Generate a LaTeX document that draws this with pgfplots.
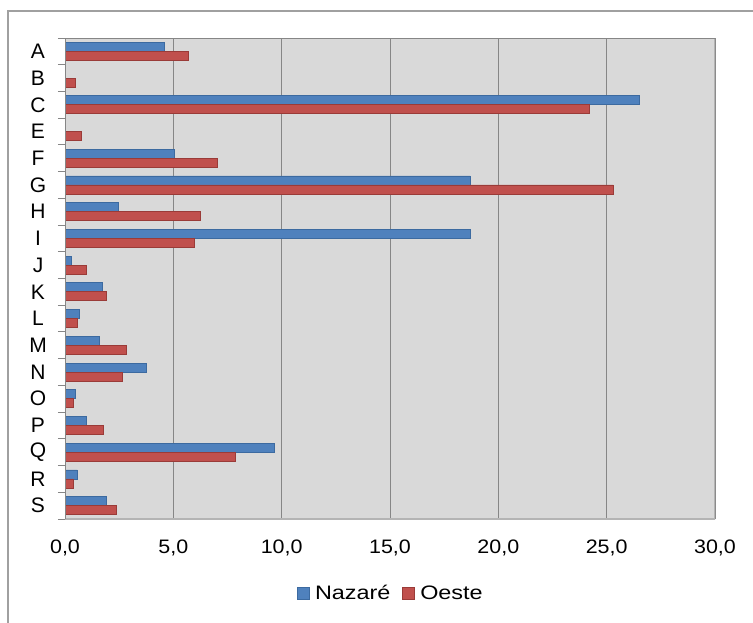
\documentclass[border=0pt]{standalone}
\usepackage{pgfplots}
\pgfplotsset{compat=1.18}
\usepackage{fontspec}
\setmainfont{Liberation Sans}
\newfontfamily\numfont[FakeStretch=1.1]{Liberation Sans}
\newfontfamily\legfont[FakeStretch=1.2]{Liberation Sans}
\definecolor{nblue}{HTML}{4F81BD}
\definecolor{nblueD}{HTML}{3C6AA0}
\definecolor{ored}{HTML}{C0504D}
\definecolor{oredD}{HTML}{9A3B38}
\definecolor{gridc}{HTML}{868686}
\definecolor{lightax}{HTML}{B4B4B4}
\definecolor{framec}{HTML}{A0A0A0}
\begin{document}
\begin{tikzpicture}
\useasboundingbox (0pt,0pt) rectangle (753pt,622pt);
\draw[framec, line width=1.2pt] (8pt,-20pt) -- (8pt,611pt) -- (780pt,611pt);
\begin{axis}[
  at={(65pt,103pt)}, anchor=south west,
  scale only axis, width=650pt, height=481pt,
  xbar=0pt, bar width=9pt,
  xmin=0, xmax=30, ymin=-0.5, ymax=17.5, y dir=reverse,
  ytick={0,...,17},
  yticklabels={A,B,C,E,F,G,H,I,J,K,L,M,N,O,P,Q,R,S},
  minor ytick={-0.5,0.5,...,17.5},
  ytick pos=left,
  xtick={0,5,...,30},
  major tick length=0pt, minor tick length=7pt,
  tick align=outside,
  minor tick style={gridc, line width=1pt},
  axis line style={draw=none},
  axis background/.style={fill=black!15},
  xmajorgrids, major grid style={gridc, line width=1pt},
  /pgf/number format/assume math mode=true,
  xticklabel style={/pgf/number format/.cd, fixed, fixed zerofill, precision=1, use comma, /tikz/.cd,
    font=\numfont\fontsize{19.5}{22}\selectfont, anchor=base, yshift=-34pt},
  yticklabel style={font=\fontsize{21}{24}\selectfont, anchor=center, xshift=-27pt},
  legend columns=2,
  legend style={at={(axis description cs:0.5015,-0.1538)}, anchor=center, draw=none, fill=none,
    font=\legfont\fontsize{19.5}{24}\selectfont,
    /tikz/every odd column/.append style={column sep=3pt},
    /tikz/every even column/.append style={column sep=10pt}},
  legend image code/.code={\draw[#1] (0pt,-6pt) rectangle (12pt,6pt);},
]
\addplot[fill=nblue, draw=nblueD, line width=0.8pt, bar shift=4.5pt] coordinates {
(4.6,0) (0,1) (26.5,2) (0,3) (5.05,4) (18.7,5) (2.45,6) (18.7,7) (0.28,8)
(1.74,9) (0.65,10) (1.57,11) (3.74,12) (0.48,13) (1.0,14) (9.65,15) (0.57,16) (1.92,17)};
\addplot[fill=ored, draw=oredD, line width=0.8pt, bar shift=-4.5pt] coordinates {
(5.7,0) (0.48,1) (24.2,2) (0.74,3) (7.05,4) (25.3,5) (6.25,6) (5.97,7) (1.0,8)
(1.92,9) (0.57,10) (2.83,11) (2.65,12) (0.37,13) (1.75,14) (7.85,15) (0.38,16) (2.37,17)};
\legend{Nazaré, Oeste}
\draw[lightax, line width=1.2pt] (axis description cs:1,1) -- (axis description cs:1,0) -- (axis description cs:0,0);
\draw[gridc, line width=1.2pt] (axis description cs:0,0) -- (axis description cs:0,1) -- (axis description cs:1,1);
\end{axis}
\end{tikzpicture}
\end{document}
